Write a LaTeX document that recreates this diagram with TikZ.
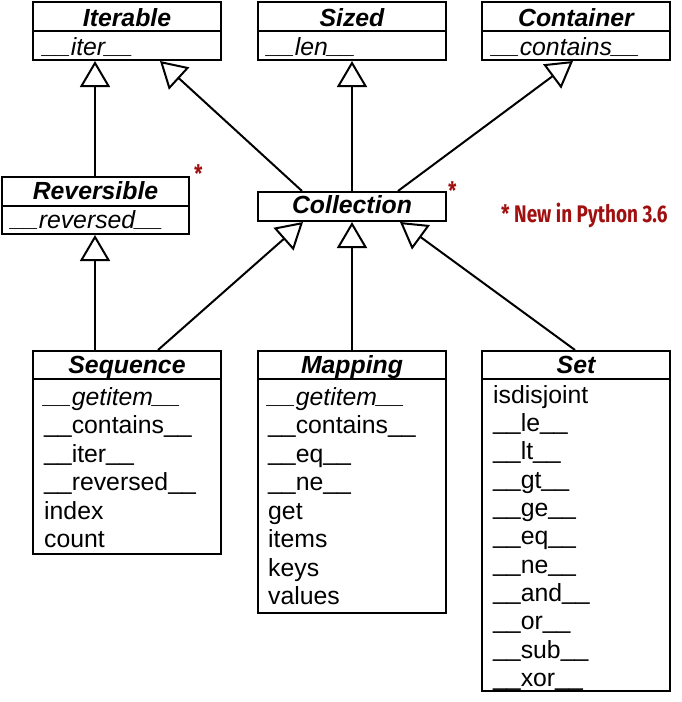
\documentclass[tikz,border=0pt]{standalone}
\usepackage{fontspec}
\setmainfont{Liberation Sans}
\newfontfamily\notefont[FakeStretch=0.79]{Fira Sans}
\usetikzlibrary{arrows.meta}
\definecolor{notered}{RGB}{160,16,16}
\newcommand\uu{\raisebox{1.5pt}{\_\_}}
\tikzset{
  x=1pt, y=-1pt,
  umlbox/.style={draw, line width=2pt, inner sep=0pt, fill=white},
  title/.style={inner sep=0pt, font=\fontsize{24.8}{28}\selectfont\bfseries\itshape, anchor=base},
  member/.style={inner sep=0pt, font=\fontsize{24.8}{28}\selectfont, anchor=base west},
  imember/.style={member, font=\fontsize{24.8}{28}\selectfont\itshape},
  divider/.style={line width=2pt},
  inherit/.style={line width=2pt, -{Triangle[open, length=26pt, width=30pt, line width=2pt]}},
  starnote/.style={inner sep=0pt, text=notered, font=\notefont\bfseries\fontsize{24}{26}\selectfont, anchor=base west}
}
\begin{document}
\begin{tikzpicture}
\useasboundingbox (0,0) rectangle (681,702);
% top row
\node[umlbox, minimum width=188pt, minimum height=58pt] (iterable) at (127,31) {};
\node[umlbox, minimum width=188pt, minimum height=58pt] (sized) at (352,31) {};
\node[umlbox, minimum width=188pt, minimum height=58pt] (container) at (576,31) {};
\draw[divider] (iterable.west |- 0,31) -- (iterable.east |- 0,31);
\draw[divider] (sized.west |- 0,31) -- (sized.east |- 0,31);
\draw[divider] (container.west |- 0,31) -- (container.east |- 0,31);
\node[title] (titerable) at (127,26) {Iterable};
\node[title] (tsized) at (352,26) {Sized};
\node[title] (tcontainer) at (576,26) {Container};
\node[imember] (miter) at (43,55) {\uu iter\uu};
\node[imember] (mlen) at (267,55) {\uu len\uu};
\node[imember] (mcontains) at (492,55) {\uu contains\uu};
% middle row
\node[umlbox, minimum width=187pt, minimum height=57pt] (reversible) at (95.5,205.5) {};
\draw[divider] (reversible.west |- 0,206) -- (reversible.east |- 0,206);
\node[title] (treversible) at (95.5,199) {Reversible};
\node[imember] (mreversed) at (11,228) {\uu reversed\uu};
\node[umlbox, minimum width=188pt, minimum height=29pt] (collection) at (352,206.5) {};
\node[title] (tcollection) at (352,213) {Collection};
\node[starnote] (star1) at (194,182) {*};
\node[starnote] (star2) at (448,199) {*};
\node[starnote] (note) at (501,222) {* New in Python 3.6};
% bottom row
\node[umlbox, minimum width=188pt, minimum height=203pt] (sequence) at (127,452.5) {};
\node[umlbox, minimum width=188pt, minimum height=262pt] (mapping) at (352,482) {};
\node[umlbox, minimum width=188pt, minimum height=340pt] (set) at (576,521) {};
\draw[divider] (sequence.west |- 0,379) -- (sequence.east |- 0,379);
\draw[divider] (mapping.west |- 0,379) -- (mapping.east |- 0,379);
\draw[divider] (set.west |- 0,379) -- (set.east |- 0,379);
\node[title] (tsequence) at (127,373) {Sequence};
\node[title] (tmapping) at (352,373) {Mapping};
\node[title] (tset) at (576,373) {Set};
\foreach [count=\i] \t in {{\itshape\uu getitem\uu}, \uu contains\uu, \uu iter\uu, \uu reversed\uu, index, count}
  \node[member] (seqm\i) at (44,{405+28.5*(\i-1)}) {\t};
\foreach [count=\i] \t in {{\itshape\uu getitem\uu}, \uu contains\uu, \uu eq\uu, \uu ne\uu, get, items, keys, values}
  \node[member] (mapm\i) at (268,{405+28.5*(\i-1)}) {\t};
\foreach [count=\i] \t in {isdisjoint, \uu le\uu, \uu lt\uu, \uu gt\uu, \uu ge\uu, \uu eq\uu, \uu ne\uu, \uu and\uu, \uu or\uu, \uu sub\uu, \uu xor\uu}
  \node[member] (setm\i) at (493,{403+28.35*(\i-1)}) {\t};
% inheritance arrows
\draw[inherit] (reversible.north -| 95,0) -- (iterable.south -| 95,0);
\draw[inherit] ([xshift=-50pt]collection.north) -- ([xshift=33pt]iterable.south);
\draw[inherit] (collection.north) -- (sized.south);
\draw[inherit] ([xshift=46pt]collection.north) -- ([xshift=-3pt]container.south);
\draw[inherit] (sequence.north -| 95,0) -- (reversible.south -| 95,0);
\draw[inherit] ([xshift=31pt]sequence.north) -- ([xshift=-49pt]collection.south);
\draw[inherit] (mapping.north) -- (collection.south);
\draw[inherit] ([xshift=-1pt]set.north) -- ([xshift=48pt]collection.south);
\end{tikzpicture}
\end{document}
